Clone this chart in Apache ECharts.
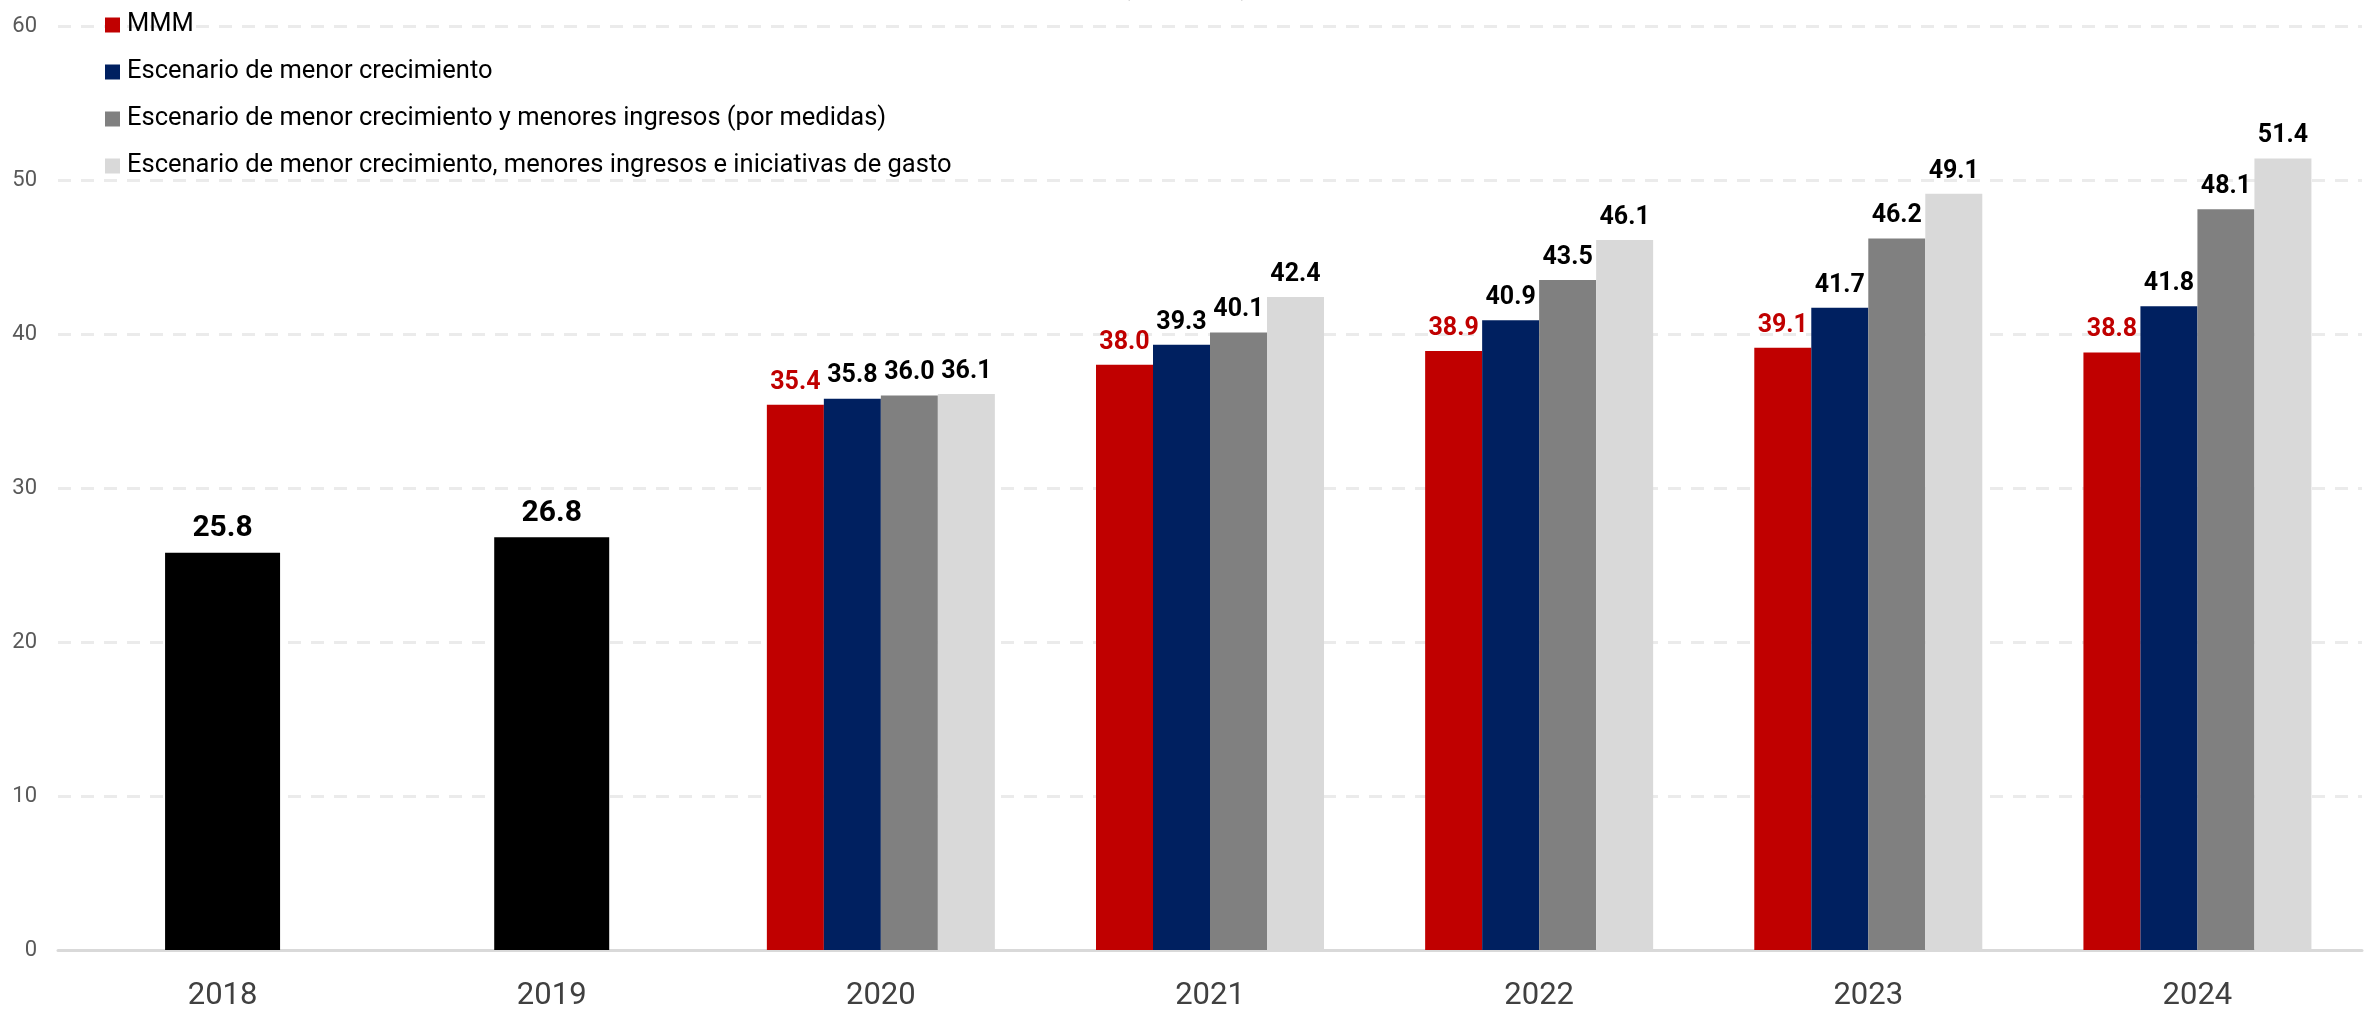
<!DOCTYPE html>
<html>
<head>
<meta charset="utf-8">
<script src="https://cdn.jsdelivr.net/npm/echarts@6/dist/echarts.min.js"></script>
<style>
  html, body { margin: 0; padding: 0; background: #fff; }
  #main { width: 2369px; height: 1023px; }
</style>
</head>
<body>
<div id="main"></div>
<script>
// datos (% del PIB)
var years = ['2018', '2019', '2020', '2021', '2022', '2023', '2024'];
var historico = [25.8, 26.8, '-', '-', '-', '-', '-'];
var mmm = ['-', '-', 35.4, 38.0, 38.9, 39.1, 38.8];
var menorCrec = ['-', '-', 35.8, 39.3, 40.9, 41.7, 41.8];
var menorIngresos = ['-', '-', 36.0, 40.1, 43.5, 46.2, 48.1];
var iniciativasGasto = ['-', '-', 36.1, 42.4, 46.1, 49.1, 51.4];
var seriesNames = [
    'MMM',
    'Escenario de menor crecimiento',
    'Escenario de menor crecimiento y menores ingresos (por medidas)',
    'Escenario de menor crecimiento, menores ingresos e iniciativas de gasto'
];
var yTicks = [0, 10, 20, 30, 40, 50, 60];

var FONT = "Roboto, 'Liberation Sans', sans-serif";

var myChart = echarts.init(document.getElementById('main'));

// etiqueta encima de cada barra
function barLabel(color) {
    return {
        show: true,
        position: 'top',
        distance: 10,
        color: color,
        fontFamily: FONT,
        fontWeight: 'bold',
        fontSize: 25,
        formatter: function (p) { return p.value.toFixed(1); }
    };
}

var option = {
    animation: false,
    backgroundColor: '#fff',
    title: {
        text: '(% del PIB)',
        left: 1116,
        top: -31,
        textStyle: { fontFamily: FONT, fontSize: 27, fontWeight: 'normal', color: '#000' }
    },
    legend: {
        orient: 'vertical',
        left: 100,
        top: 5,
        itemWidth: 15,
        itemHeight: 15,
        itemGap: 17,
        icon: 'rect',
        data: seriesNames,
        textStyle: { fontFamily: FONT, fontSize: 25.5, color: '#000', lineHeight: 30, padding: [0, 0, 0, 2] }
    },
    grid: {
        left: 58,
        right: 7,
        top: 26,
        bottom: 73
    },
    xAxis: [
        {
            type: 'category',
            data: years,
            axisTick: { show: false },
            axisLine: { lineStyle: { color: '#d9d9d9', width: 3 } },
            axisLabel: { color: '#404040', fontFamily: FONT, fontSize: 31, margin: 31 }
        },
        {
            type: 'category',
            data: years,
            show: false
        }
    ],
    yAxis: {
        type: 'value',
        min: yTicks[0],
        max: yTicks[yTicks.length - 1],
        interval: 10,
        axisLine: { show: false },
        axisTick: { show: false },
        axisLabel: { color: '#595959', fontFamily: FONT, fontSize: 22, margin: 21 },
        splitLine: { lineStyle: { color: '#ebebeb', width: 3, type: [13, 10] } }
    },
    series: [
        {
            name: 'Histórico',
            type: 'bar',
            xAxisIndex: 1,
            barWidth: 115,
            data: historico,
            itemStyle: { color: '#000000' },
            label: {
                show: true,
                position: 'top',
                distance: 9,
                color: '#000',
                fontFamily: FONT,
                fontWeight: 'bold',
                fontSize: 30,
                formatter: function (p) { return p.value.toFixed(1); }
            }
        },
        {
            name: seriesNames[0],
            type: 'bar',
            barWidth: 57,
            barGap: '0%',
            data: mmm,
            itemStyle: { color: '#c00000' },
            label: barLabel('#c00000')
        },
        {
            name: seriesNames[1],
            type: 'bar',
            barWidth: 57,
            barGap: '0%',
            data: menorCrec,
            itemStyle: { color: '#002060' },
            label: barLabel('#000')
        },
        {
            name: seriesNames[2],
            type: 'bar',
            barWidth: 57,
            barGap: '0%',
            data: menorIngresos,
            itemStyle: { color: '#808080' },
            label: barLabel('#000')
        },
        {
            name: seriesNames[3],
            type: 'bar',
            barWidth: 57,
            barGap: '0%',
            data: iniciativasGasto,
            itemStyle: { color: '#d9d9d9' },
            label: barLabel('#000')
        }
    ]
};
myChart.setOption(option);
</script>
</body>
</html>
